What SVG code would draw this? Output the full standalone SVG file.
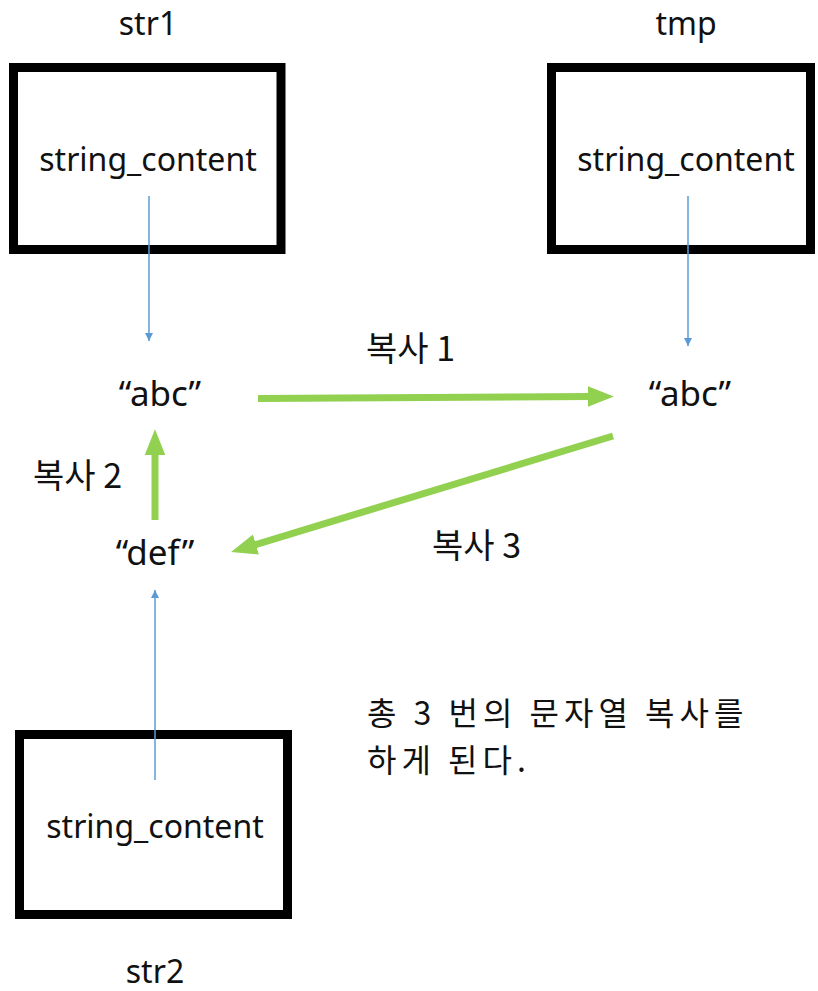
<svg xmlns="http://www.w3.org/2000/svg" width="818" height="991" viewBox="0 0 818 991">
<defs>
<style>
.box{fill:#fff;stroke:#000;stroke-width:9}
.t{font-family:"Noto Sans","Noto Sans CJK KR",sans-serif;font-size:32px;fill:#111;text-anchor:middle}
.q{font-family:"Noto Sans","Noto Sans CJK KR",sans-serif;font-size:35px;fill:#111;text-anchor:middle}
.k{font-family:"Noto Sans CJK KR","Noto Sans",sans-serif;font-size:34px;fill:#111}
.k2{font-family:"Noto Sans CJK KR","Noto Sans",sans-serif;font-size:32px;fill:#111;letter-spacing:5px}
.blue{stroke:#5b9bd5;stroke-width:1.5;fill:none}
.green{stroke:#92d050;stroke-width:7;fill:none}
</style>
<marker id="ba" viewBox="0 0 10 10" refX="10" refY="5" markerWidth="8" markerHeight="8" markerUnits="userSpaceOnUse" orient="auto"><path d="M0,0 L10,5 L0,10 z" fill="#5b9bd5"/></marker>
<marker id="ga" viewBox="0 0 10 10" refX="2" refY="5" markerWidth="26" markerHeight="26" markerUnits="userSpaceOnUse" orient="auto"><path d="M0,1 L10,5 L0,9 z" fill="#92d050"/></marker>
</defs>
<rect width="818" height="991" fill="#fff"/>
<g id="str1">
<rect class="box" x="13.5" y="67.5" width="267.5" height="182"/>
<text class="t" x="148" y="171">string_content</text>
<text class="t" x="148" y="35">str1</text>
</g>
<g id="tmp">
<rect class="box" x="551.5" y="67.5" width="259" height="182"/>
<text class="t" x="686" y="171">string_content</text>
<text class="t" x="686" y="35">tmp</text>
</g>
<g id="str2">
<rect class="box" x="19.5" y="734.5" width="268" height="180"/>
<text class="t" x="155" y="838">string_content</text>
<text class="t" x="155" y="983">str2</text>
</g>
<g id="abc1"><text class="q" x="160" y="406">“abc”</text></g>
<g id="abc2"><text class="q" x="690" y="406">“abc”</text></g>
<g id="def"><text class="q" x="155" y="565">“def”</text></g>
<g id="connectors">
<line class="blue" x1="149" y1="196" x2="149" y2="341" marker-end="url(#ba)"/>
<line class="blue" x1="688" y1="196" x2="688" y2="346" marker-end="url(#ba)"/>
<line class="blue" x1="155" y1="780" x2="155" y2="590" marker-end="url(#ba)"/>
<line class="green" x1="258" y1="398.5" x2="593" y2="396.5" marker-end="url(#ga)"/>
<line class="green" x1="155" y1="520" x2="155" y2="450" marker-end="url(#ga)"/>
<line class="green" x1="613" y1="436" x2="251" y2="546" marker-end="url(#ga)"/>
</g>
<g id="labels">
<text class="k" x="366" y="361">복사 1</text>
<text class="k" x="33" y="488">복사 2</text>
<text class="k" x="432" y="558">복사 3</text>
<text class="k2"><tspan x="367" y="725">총 3 번의 문자열 복사를</tspan><tspan x="367" y="772">하게 된다.</tspan></text>
</g>
</svg>
